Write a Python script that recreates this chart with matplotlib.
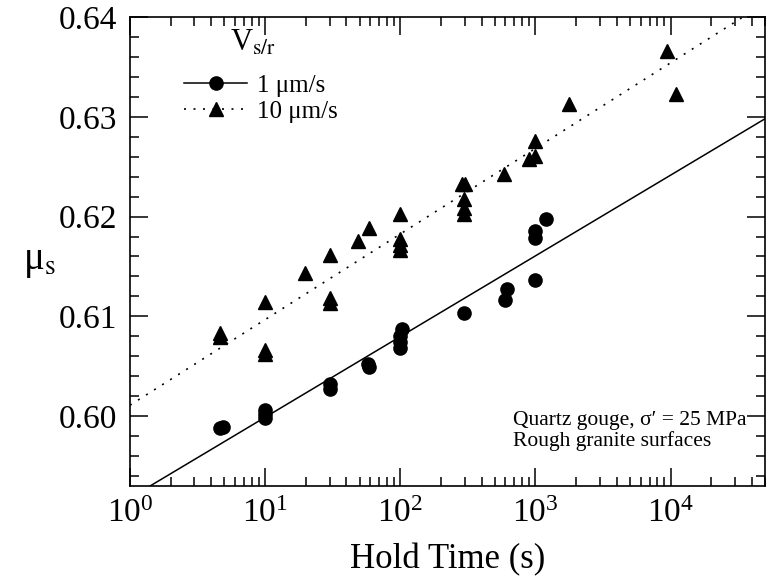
import matplotlib
matplotlib.use("Agg")
import matplotlib.pyplot as plt
from matplotlib.ticker import MultipleLocator, LogLocator, NullFormatter

plt.rcParams['font.family'] = ['Liberation Serif', 'DejaVu Serif']
plt.rcParams['mathtext.fontset'] = 'stix'

# 1 um/s data (hold time s, static friction)
t_1 = [4.6, 4.9, 10, 10, 10, 30, 30, 58, 59, 100, 100, 100, 103,
       298, 600, 620, 985, 985, 985, 1205]
mu_1 = [0.5988, 0.5989, 0.6006, 0.6002, 0.5998, 0.6032, 0.6027, 0.6052, 0.6049,
        0.6080, 0.6074, 0.6068, 0.6087,
        0.6103, 0.6116, 0.6127, 0.6136, 0.6179, 0.6186, 0.6198]

# 10 um/s data
t_10 = [4.6, 4.6, 10, 10, 10, 19.8, 30, 30, 30, 49, 59,
        100, 100, 100, 100, 285, 300, 295, 295, 295,
        590, 890, 1000, 1000, 1785, 9340, 10900]
mu_10 = [0.6083, 0.6079, 0.6114, 0.6066, 0.6062, 0.6143, 0.6161, 0.6118, 0.6113, 0.6176, 0.6189,
         0.6203, 0.6178, 0.6172, 0.6167, 0.6233, 0.6233, 0.6218, 0.6209, 0.6203,
         0.6243, 0.6258, 0.6261, 0.6276, 0.6313, 0.6366, 0.6323]

# log-linear fits (endpoints)
fit_t = [1, 5e4]
fit_mu_1 = [0.5918, 0.6298]
fit_mu_10 = [0.6011, 0.6414]

fig = plt.figure(figsize=(7.71, 5.83), dpi=100)
ax = fig.add_axes([130 / 771, 1 - 486 / 583, 635 / 771, 469 / 583])

dots = (0, (1.2, 4.5))
ax.plot(fit_t, fit_mu_1, color='black', lw=1.1)
ax.plot(fit_t, fit_mu_10, color='black', lw=1.2, linestyle=dots)
ax.plot(t_1, mu_1, 'o', color='black', ms=9.5, ls='none')
ax.plot(t_10, mu_10, '^', color='black', ms=9.5, ls='none')

# legend proxies
h1, = ax.plot([], [], color='black', lw=1.1, marker='o', ms=9.5)
h2, = ax.plot([], [], color='black', lw=1.2, linestyle=dots, marker='^', ms=9.5)
leg = ax.legend([h1, h2], ['1 μm/s', '10 μm/s'],
                loc='upper left', bbox_to_anchor=(0.05, 0.926), frameon=False,
                fontsize=18, handlelength=2.5, handletextpad=0.4,
                labelspacing=0.15)
ax.text(0.194, 0.945, 'V$_{\\mathrm{s/r}}$', transform=ax.transAxes, fontsize=22,
        ha='center', va='center')

ax.set_xscale('log')
ax.set_xlim(1, 5e4)
ax.set_ylim(0.593, 0.64)
ax.yaxis.set_major_locator(MultipleLocator(0.01))
ax.yaxis.set_minor_locator(MultipleLocator(0.002))
ax.yaxis.set_major_formatter(plt.FuncFormatter(lambda v, p: f"{v:.2f}"))
ax.xaxis.set_major_locator(LogLocator(base=10, numticks=10))
ax.xaxis.set_minor_locator(LogLocator(base=10, subs=range(2, 10), numticks=20))
ax.xaxis.set_minor_formatter(NullFormatter())

ax.tick_params(which='both', direction='in', top=True, right=True, labelsize=24, width=1.1)
ax.tick_params(which='major', length=13, pad=9)
ax.tick_params(which='minor', length=6.5)
for s in ax.spines.values():
    s.set_linewidth(1.2)

ax.set_xlabel('Hold Time (s)', fontsize=25, labelpad=10)
ax.set_ylabel('μ$_\\mathrm{s}$', fontsize=28, rotation=0)
ax.yaxis.set_label_coords(-0.142, 0.44)

ax.text(0.603, 0.117, "Quartz gouge, σ′ = 25 MPa\nRough granite surfaces",
        transform=ax.transAxes, fontsize=15.5, va='center', ha='left', linespacing=1.1)

fig.savefig('out.png', dpi=100)
